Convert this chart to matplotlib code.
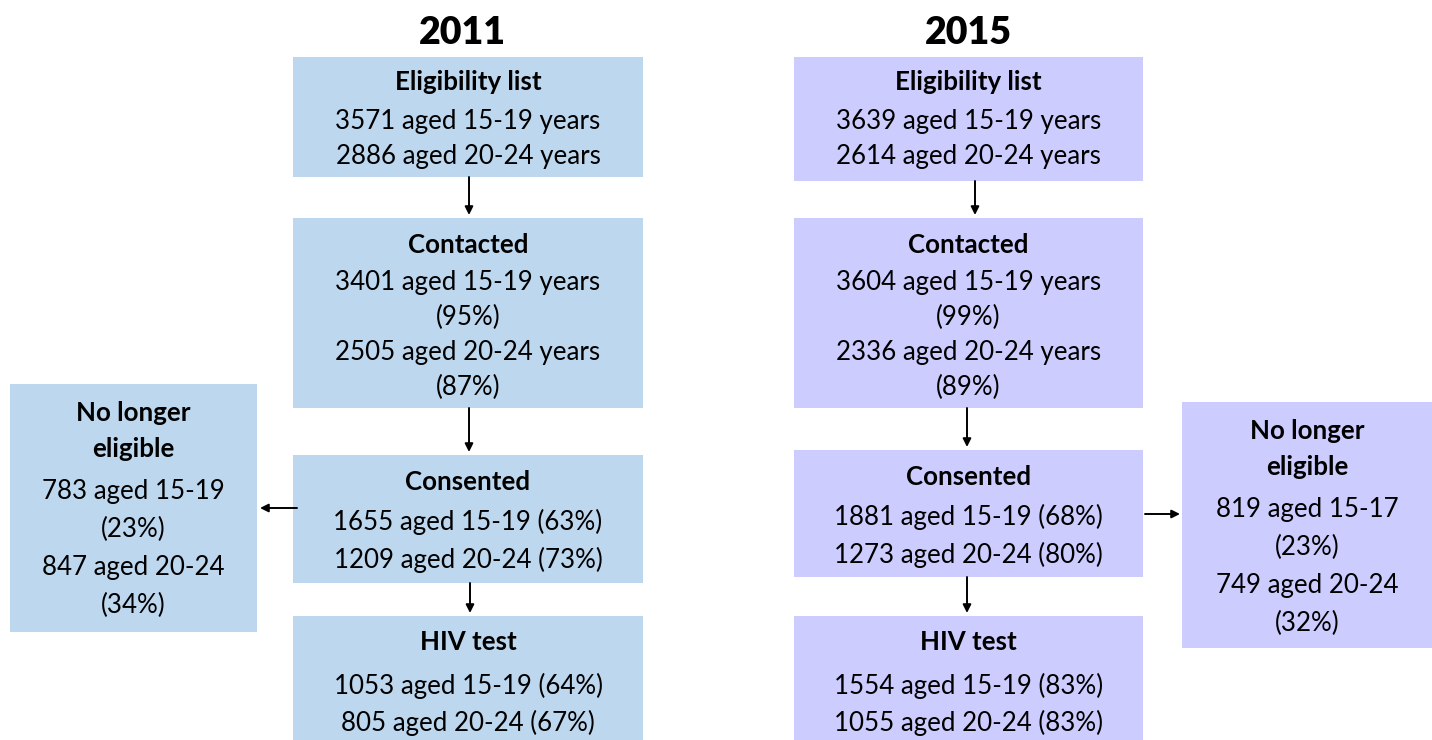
import matplotlib.pyplot as plt
from matplotlib.patches import Rectangle

plt.rcParams['font.family'] = ['Lato', 'DejaVu Sans']

W, H = 1432, 740

years = ["2011", "2015"]
colours = {"2011": "#bdd7ee", "2015": "#ccccff"}

headers = ["Eligibility list", "Contacted", "Consented", "HIV test"]
lines_2011 = [
    ["3571 aged 15-19 years", "2886 aged 20-24 years"],
    ["3401 aged 15-19 years", "(95%)", "2505 aged 20-24 years", "(87%)"],
    ["1655 aged 15-19 (63%)", "1209 aged 20-24 (73%)"],
    ["1053 aged 15-19 (64%)", "805 aged 20-24 (67%)"],
]
lines_2015 = [
    ["3639 aged 15-19 years", "2614 aged 20-24 years"],
    ["3604 aged 15-19 years", "(99%)", "2336 aged 20-24 years", "(89%)"],
    ["1881 aged 15-19 (68%)", "1273 aged 20-24 (80%)"],
    ["1554 aged 15-19 (83%)", "1055 aged 20-24 (83%)"],
]
side_header = "No longer\neligible"
side_2011 = ["783 aged 15-19", "(23%)", "847 aged 20-24", "(34%)"]
side_2015 = ["819 aged 15-17", "(23%)", "749 aged 20-24", "(32%)"]

# box layout in pixels: (x0, y0, x1, y1)
main_boxes = {
    "2011": [(293, 57, 643, 177), (293, 218, 643, 408),
             (293, 455, 643, 583), (293, 616, 643, 745)],
    "2015": [(794, 57, 1143, 181), (794, 218, 1143, 408),
             (794, 450, 1143, 577), (794, 616, 1143, 745)],
}
# (header offset from top, header-to-header, header-to-text, text-to-text)
main_spacing = [(23, 36, 39, 35), (25, 36, 37, 35),
                (25, 36, 39, 38), (24, 36, 43, 37)]
side_boxes = {"2011": (10, 384, 257, 632), "2015": (1182, 402, 1432, 648)}
side_spacing = (27, 36, 42, 38)
side_cx = {"2011": 133, "2015": 1307}
arrow_x = {"2011": [469, 469, 470], "2015": [975, 967, 967]}
title_x = {"2011": 462, "2015": 968}

FS = 18.6

fig = plt.figure(figsize=(W / 100, H / 100), dpi=100)
ax = fig.add_axes([0, 0, 1, 1])
ax.set_xlim(0, W)
ax.set_ylim(H, 0)
ax.axis("off")


def draw_box(box, colour, header, lines, spacing, cx=None):
    x0, y0, x1, y1 = box
    ax.add_patch(Rectangle((x0, y0), x1 - x0, y1 - y0, facecolor=colour,
                           edgecolor="none"))
    if cx is None:
        cx = (x0 + x1) / 2
    off, hgap, fgap, lgap = spacing
    y = y0 + off
    for k, h in enumerate(header.split("\n")):
        if k:
            y += hgap
        ax.text(cx, y, h, ha="center", va="center_baseline", fontsize=FS,
                fontweight="bold", color="black")
    y += fgap
    for t in lines:
        ax.text(cx, y, t, ha="center", va="center_baseline", fontsize=FS,
                color="black")
        y += lgap


def arrow(x0, y0, x1, y1):
    ax.annotate("", xy=(x1, y1), xytext=(x0, y0),
                arrowprops=dict(arrowstyle="-|>", color="black", lw=1.4,
                                mutation_scale=12, shrinkA=0, shrinkB=0))


for yr, lines in zip(years, [lines_2011, lines_2015]):
    boxes = main_boxes[yr]
    ax.text(title_x[yr], 30, yr, ha="center", va="center_baseline",
            fontsize=27, fontweight="heavy")
    for b, h, l, sp in zip(boxes, headers, lines, main_spacing):
        draw_box(b, colours[yr], h, l, sp)
    for i, ax_x in enumerate(arrow_x[yr]):
        arrow(ax_x, boxes[i][3], ax_x, boxes[i + 1][1] - 3)

draw_box(side_boxes["2011"], colours["2011"], side_header, side_2011,
         side_spacing, cx=side_cx["2011"])
draw_box(side_boxes["2015"], colours["2015"], side_header, side_2015,
         side_spacing, cx=side_cx["2015"])

arrow(297, 508, 260, 508)
arrow(1145, 514, 1180, 514)

fig.savefig("out.png", dpi=100)
